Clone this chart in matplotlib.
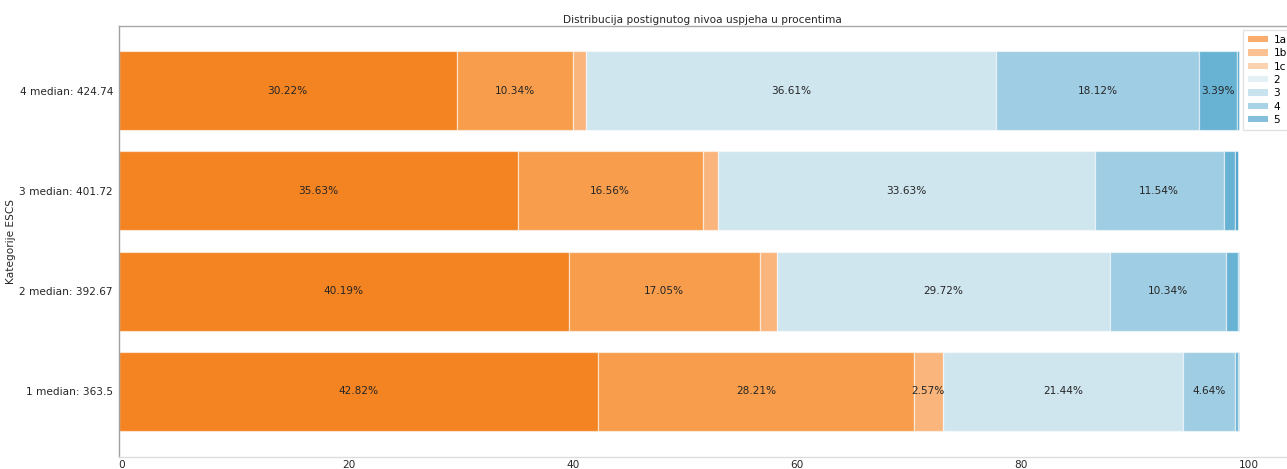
#!/usr/bin/python
# -*- coding: utf-8 -*-
"""
plot.py: Stacked horizontal bar chart of achievement level distribution per ESCS category
"""

import matplotlib
matplotlib.use('Agg') # Headless plotting
import matplotlib.pyplot as plt
from matplotlib.patches import Patch

# Rows, bottom to top
categories = ['1 median: 363.5', '2 median: 392.67', '3 median: 401.72', '4 median: 424.74']

# Percentages per achievement level (same order as categories)
levels = ['1a', '1b', '1c', '2', '3', '4', '5']
lvl_1a = [42.82, 40.19, 35.63, 30.22]
lvl_1b = [28.21, 17.05, 16.56, 10.34]
lvl_1c = [2.57, 1.56, 1.34, 1.18]
lvl_2 = [21.44, 29.72, 33.63, 36.61]
lvl_3 = [4.64, 10.34, 11.54, 18.12]
lvl_4 = [0.28, 1.08, 1.00, 3.39]
lvl_5 = [0.04, 0.06, 0.30, 0.14]

xticks = [0, 20, 40, 60, 80, 100]

bar_colors = ['#f48322', '#f79d4c', '#f9b57b', '#cfe6ef', '#9fcde3', '#68b2d3', '#4a9fc9']
legend_colors = ['#f9ac6c', '#fac192', '#fcd3b0', '#e3f1f7', '#c8e3ee', '#a8d2e6', '#86bfdc']

FS = 7.6 # font size used everywhere


def stackedPlot(outfn):
    """ Draw the stacked bars, percentage labels and legend, save to outfn """
    fig = plt.figure(figsize=(12.87, 4.69), dpi=100)
    ax = fig.add_axes([118.5/1287, 1 - 457/469, 1 - 118.5/1287, (457 - 26)/469])

    series = [lvl_1a, lvl_1b, lvl_1c, lvl_2, lvl_3, lvl_4, lvl_5]
    ypos = list(range(len(categories)))
    left = [0.0] * len(categories)
    for vals, col in zip(series, bar_colors):
        ax.barh(ypos, vals, left=left, height=0.79, color=col,
                edgecolor=(1, 1, 1, 0.55), linewidth=0.9)
        for y, v, l in zip(ypos, vals, left):
            if v > 2: # small segments stay unlabeled
                ax.text(l + v/2, y, '%.2f%%' % v, ha='center', va='center',
                        fontsize=FS, color='#262626')
        left = [l + v for l, v in zip(left, vals)]

    ax.set_xlim(0, (1287 - 118.5)/11.2)
    ax.set_ylim(-0.66, 3.65)
    ax.set_yticks(ypos)
    ax.set_yticklabels(categories, fontsize=FS, color='#262626')
    ax.set_xticks(xticks)
    ax.set_xticklabels([str(t) for t in xticks], fontsize=FS, color='#262626')
    for lab in ax.get_xticklabels():
        lab.set_ha('left') # labels start at the tick
    ax.tick_params(axis='both', length=0)
    ax.tick_params(axis='x', pad=2)
    ax.tick_params(axis='y', pad=4)

    ax.spines['right'].set_visible(False)
    ax.spines['left'].set_color('#a0a0a0')
    ax.spines['top'].set_color('#a8a8a8')
    ax.spines['bottom'].set_color('#dddddd')
    for s in ax.spines.values():
        s.set_linewidth(1.0)

    ax.set_title('Distribucija postignutog nivoa uspjeha u procentima', fontsize=FS,
                 color='#262626', pad=2)
    ax.set_ylabel('Kategorije ESCS', fontsize=FS, color='#262626', labelpad=2.5)

    handles = [Patch(facecolor=c, edgecolor='none') for c in legend_colors]
    fig.legend(handles, levels, loc='upper left', bbox_to_anchor=(1243/1287, 1 - 30/469),
               fontsize=FS, frameon=True, edgecolor='#dddddd', fancybox=False,
               handlelength=1.9, handleheight=0.55, labelspacing=0.32,
               borderpad=0.45, handletextpad=0.55, borderaxespad=0)

    fig.savefig(outfn, dpi=100)
    plt.close(fig)
    return


stackedPlot('out.png')
